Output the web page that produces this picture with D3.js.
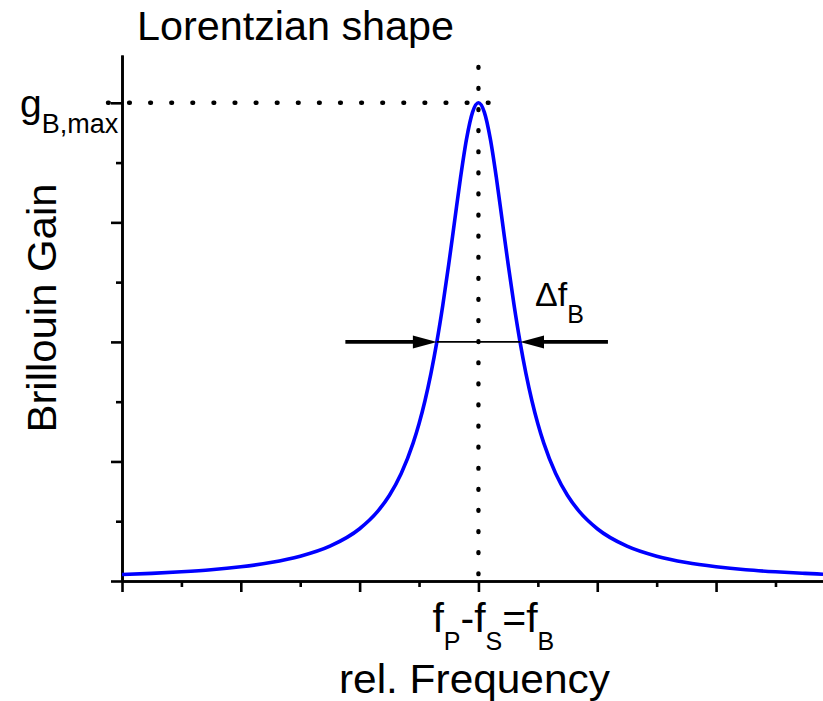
<!DOCTYPE html>
<html>
<head>
<meta charset="utf-8">
<script src="https://cdn.jsdelivr.net/npm/d3@7/dist/d3.min.js"></script>
<style>
  html, body { margin: 0; padding: 0; background: #fff; }
  svg { display: block; }
  text { font-family: "Liberation Sans", Arial, Helvetica, sans-serif; fill: #000; }
</style>
</head>
<body>
<svg id="chart" width="823" height="701"></svg>
<script>
// Relative frequency (in units of the major x tick spacing) and Brillouin gain
const freq = [0, 0.25, 0.5, 0.75, 1, 1.25, 1.5, 1.75, 2, 2.15, 2.25, 2.35, 2.45, 2.5,
              2.55, 2.6, 2.65, 2.7, 2.75, 2.8, 2.85, 2.9, 2.95, 3,
              3.05, 3.1, 3.15, 3.2, 3.25, 3.3, 3.35, 3.4, 3.45, 3.5, 3.55, 3.65,
              3.75, 3.85, 4, 4.25, 4.5, 4.75, 5, 5.25, 5.5, 5.75, 5.9];
const gain = [0.054, 0.064, 0.077, 0.094, 0.119, 0.154, 0.207, 0.291, 0.437, 0.580, 0.715, 0.899, 1.153, 1.315,
              1.508, 1.735, 2.0, 2.306, 2.649, 3.015, 3.379, 3.698, 3.920, 4.0,
              3.920, 3.698, 3.379, 3.015, 2.649, 2.306, 2.0, 1.735, 1.508, 1.315, 1.153, 0.899,
              0.715, 0.580, 0.437, 0.291, 0.207, 0.154, 0.119, 0.094, 0.077, 0.064, 0.057];

const peakFreq = 3;          // f_P - f_S = f_B
const peakGain = 4;          // g_B,max
const halfGain = 2;          // level of the linewidth arrows
const halfWidthLeft = 2.65;  // left crossing of half maximum
const halfWidthRight = 3.35; // right crossing of half maximum
const arrowStartLeft = 1.88;
const arrowStartRight = 4.09;

const xMajorTicks = [0, 1, 2, 3, 4, 5];
const xMinorTicks = [0.5, 1.5, 2.5, 3.5, 4.5, 5.5];
const yMajorTicks = [0, 1, 2, 3, 4];
const yMinorTicks = [0.5, 1.5, 2.5, 3.5];

const svg = d3.select("#chart");

const x = d3.scaleLinear().domain([0, 5.9]).range([122, 823]);
const y = d3.scaleLinear().domain([0, 4.4]).range([581, 55]);

const axisStroke = 2.6;

// Axes: major and minor ticks, no labels
function styleAxis(g) {
  g.selectAll("path.domain").attr("stroke", "#000").attr("stroke-width", axisStroke);
  g.selectAll(".tick line").attr("stroke", "#000").attr("stroke-width", axisStroke);
  g.selectAll(".tick text").remove();
}

svg.append("g")
  .attr("transform", `translate(0,${y(0)})`)
  .call(d3.axisBottom(x).tickValues(xMinorTicks).tickSize(6).tickSizeOuter(0).tickFormat(""))
  .call(styleAxis);
svg.append("g")
  .attr("transform", `translate(0,${y(0)})`)
  .call(d3.axisBottom(x).tickValues(xMajorTicks).tickSize(11).tickSizeOuter(0).tickFormat(""))
  .call(styleAxis);

svg.append("g")
  .attr("transform", `translate(${x(0)},0)`)
  .call(d3.axisLeft(y).tickValues(yMinorTicks).tickSize(6).tickSizeOuter(0).tickFormat(""))
  .call(styleAxis);
svg.append("g")
  .attr("transform", `translate(${x(0)},0)`)
  .call(d3.axisLeft(y).tickValues(yMajorTicks).tickSize(11).tickSizeOuter(0).tickFormat(""))
  .call(styleAxis);

// Dotted guide lines through the peak
const dotted = { stroke: "#000", width: 4.4, dash: "0.8 20.3" };
svg.append("line")
  .attr("x1", x(-0.118)).attr("x2", x(3.15))
  .attr("y1", y(peakGain)).attr("y2", y(peakGain))
  .attr("stroke", dotted.stroke).attr("stroke-width", dotted.width)
  .attr("stroke-linecap", "round").attr("stroke-dasharray", dotted.dash);
svg.append("line")
  .attr("x1", x(peakFreq)).attr("x2", x(peakFreq))
  .attr("y1", y(4.3)).attr("y2", y(-0.08))
  .attr("stroke", dotted.stroke).attr("stroke-width", dotted.width)
  .attr("stroke-linecap", "round").attr("stroke-dasharray", dotted.dash);

// Lorentzian gain curve
const line = d3.line()
  .x((d, i) => x(freq[i]))
  .y((d, i) => y(gain[i]))
  .curve(d3.curveMonotoneX);
svg.append("path")
  .datum(freq)
  .attr("d", line)
  .attr("fill", "none")
  .attr("stroke", "#0000ff")
  .attr("stroke-width", 3.6);

// Linewidth arrows at half maximum
const yh = y(halfGain);
svg.append("line")
  .attr("x1", x(halfWidthLeft)).attr("x2", x(halfWidthRight))
  .attr("y1", yh).attr("y2", yh)
  .attr("stroke", "#000").attr("stroke-width", 1.6);

const headLen = 24, headHalf = 6.5;
function arrow(fromF, tipF) {
  const x0 = x(fromF), xt = x(tipF);
  const dir = Math.sign(xt - x0);
  const xb = xt - dir * headLen;
  svg.append("line")
    .attr("x1", x0).attr("x2", xb + dir * 2)
    .attr("y1", yh).attr("y2", yh)
    .attr("stroke", "#000").attr("stroke-width", 3.8);
  svg.append("path")
    .attr("d", `M${xt},${yh} L${xb},${yh - headHalf} L${xb},${yh + headHalf} Z`)
    .attr("fill", "#000");
}
arrow(arrowStartLeft, halfWidthLeft);
arrow(arrowStartRight, halfWidthRight);

// Texts
svg.append("text")
  .attr("x", 137).attr("y", 40)
  .attr("font-size", 40)
  .attr("textLength", 317).attr("lengthAdjust", "spacingAndGlyphs")
  .text("Lorentzian shape");

svg.append("text")
  .attr("transform", `translate(56,${(183 + 433) / 2}) rotate(-90)`)
  .attr("text-anchor", "middle")
  .attr("font-size", 41)
  .attr("textLength", 249).attr("lengthAdjust", "spacingAndGlyphs")
  .text("Brillouin Gain");

const gLabel = svg.append("text")
  .attr("x", 20).attr("y", y(peakGain) + 14)
  .attr("font-size", 39);
gLabel.append("tspan").text("g");
gLabel.append("tspan").attr("font-size", 27).attr("dy", 16).text("B,max");

const dfLabel = svg.append("text")
  .attr("x", 535).attr("y", yh - 36)
  .attr("font-size", 34);
dfLabel.append("tspan").text("\u0394f");
dfLabel.append("tspan").attr("font-size", 25).attr("dy", 17).text("B");

const fLabel = svg.append("text")
  .attr("x", x(peakFreq) - 46).attr("y", 632)
  .attr("font-size", 41);
fLabel.append("tspan").text("f");
fLabel.append("tspan").attr("font-size", 25).attr("dy", 18).text("P");
fLabel.append("tspan").attr("dy", -18).text("-f");
fLabel.append("tspan").attr("font-size", 25).attr("dy", 18).text("S");
fLabel.append("tspan").attr("dy", -18).text("=f");
fLabel.append("tspan").attr("font-size", 25).attr("dy", 18).text("B");

svg.append("text")
  .attr("x", x(peakFreq) - 4).attr("y", 693)
  .attr("text-anchor", "middle")
  .attr("font-size", 41)
  .attr("textLength", 271).attr("lengthAdjust", "spacingAndGlyphs")
  .text("rel. Frequency");
</script>
</body>
</html>
